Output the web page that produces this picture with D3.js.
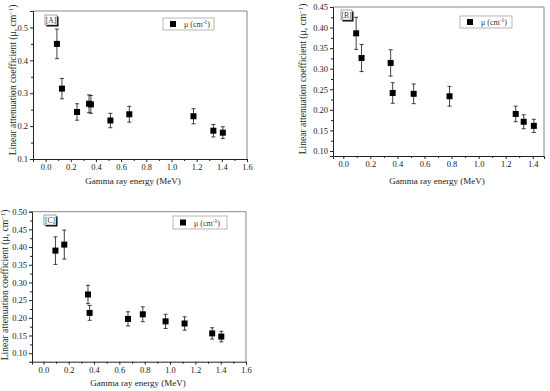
<!DOCTYPE html>
<html><head><meta charset="utf-8">
<script src="https://cdn.jsdelivr.net/npm/d3@7"></script>
<style>body{margin:0;background:#fff}svg{display:block}</style>
</head><body><svg id="c" width="550" height="391"></svg>
<script>
// ---- data ----
const energyA = [0.09, 0.13, 0.25, 0.345, 0.36, 0.515, 0.665, 1.175, 1.333, 1.408];
const muA     = [0.450, 0.314, 0.243, 0.268, 0.266, 0.217, 0.236, 0.230, 0.186, 0.180];
const errA    = [0.045, 0.031, 0.025, 0.027, 0.027, 0.022, 0.024, 0.023, 0.019, 0.018];

const energyB = [0.095, 0.135, 0.35, 0.365, 0.52, 0.785, 1.274, 1.333, 1.408];
const muB     = [0.386, 0.326, 0.314, 0.241, 0.239, 0.233, 0.190, 0.171, 0.161];
const errB    = [0.039, 0.033, 0.032, 0.025, 0.024, 0.024, 0.019, 0.017, 0.016];

const energyC = [0.095, 0.165, 0.352, 0.365, 0.668, 0.785, 0.965, 1.115, 1.333, 1.405];
const muC     = [0.390, 0.407, 0.266, 0.214, 0.197, 0.210, 0.190, 0.184, 0.156, 0.147];
const errC    = [0.039, 0.041, 0.026, 0.021, 0.020, 0.021, 0.020, 0.019, 0.016, 0.015];

const xTicksA = [0.0,0.2,0.4,0.6,0.8,1.0,1.2,1.4,1.6];
const xTicksB = [0.0,0.2,0.4,0.6,0.8,1.0,1.2,1.4];
const xTicksC = [0.0,0.2,0.4,0.6,0.8,1.0,1.2,1.4,1.6];
const yTicksA = [0.1,0.2,0.3,0.4,0.5];
const yTicksB = [0.10,0.15,0.20,0.25,0.30,0.35,0.40,0.45];
const yTicksC = [0.10,0.15,0.20,0.25,0.30,0.35,0.40,0.45,0.50];

const xTitle = "Gamma ray energy (MeV)";
const legendText = "μ (cm";
// ---------------

const svg = d3.select("#c");
const FONT = "Liberation Serif, Times New Roman, serif";

function panel(cfg) {
  const g = svg.append("g");
  const x = d3.scaleLinear().domain(cfg.xd).range([cfg.l, cfg.r]);
  const y = d3.scaleLinear().domain(cfg.yd).range([cfg.b, cfg.t]);

  g.append("line").attr("x1", cfg.l).attr("x2", cfg.r).attr("y1", cfg.t).attr("y2", cfg.t)
    .attr("stroke", "#888").attr("stroke-width", 1);
  g.append("line").attr("x1", cfg.r).attr("x2", cfg.r).attr("y1", cfg.t).attr("y2", cfg.b)
    .attr("stroke", "#888").attr("stroke-width", 1);

  const mid = a => a.slice(0, -1).map((d, i) => (d + a[i + 1]) / 2);
  const xMinor = mid(cfg.xt).concat([cfg.xt[cfg.xt.length-1] + (cfg.xt[1]-cfg.xt[0])/2]).filter(v => v <= cfg.xd[1] + 1e-9);
  const yMinor = mid(cfg.yt);

  const xa = g.append("g").attr("transform", `translate(0,${cfg.b})`)
    .call(d3.axisBottom(x).tickValues(cfg.xt).tickSize(3).tickPadding(2).tickFormat(d3.format(".1f")));
  g.append("g").attr("transform", `translate(0,${cfg.b})`)
    .call(d3.axisBottom(x).tickValues(xMinor).tickSize(2).tickFormat(""))
    .select(".domain").remove();
  const ya = g.append("g").attr("transform", `translate(${cfg.l},0)`)
    .call(d3.axisLeft(y).tickValues(cfg.yt).tickSize(3).tickPadding(2).tickFormat(d3.format(cfg.yf)));
  g.append("g").attr("transform", `translate(${cfg.l},0)`)
    .call(d3.axisLeft(y).tickValues(yMinor).tickSize(2).tickFormat(""))
    .select(".domain").remove();
  [xa, ya].forEach(a => {
    a.selectAll("text").attr("font-family", FONT).attr("font-size", 8.5).attr("fill", "#222");
    a.select(".domain").attr("stroke", "#222");
  });
  g.selectAll(".tick line").attr("stroke", "#222");

  const pts = cfg.e.map((e, i) => ({ e, m: cfg.m[i], s: cfg.s[i] }));
  const eb = g.append("g").attr("stroke", "#111").attr("stroke-width", 0.8);
  pts.forEach(p => {
    const cx = x(p.e);
    eb.append("line").attr("x1", cx).attr("x2", cx).attr("y1", y(p.m + p.s)).attr("y2", y(p.m - p.s));
    eb.append("line").attr("x1", cx - 2).attr("x2", cx + 2).attr("y1", y(p.m + p.s)).attr("y2", y(p.m + p.s));
    eb.append("line").attr("x1", cx - 2).attr("x2", cx + 2).attr("y1", y(p.m - p.s)).attr("y2", y(p.m - p.s));
  });
  g.append("g").selectAll("rect").data(pts).join("rect")
    .attr("x", d => x(d.e) - 3).attr("y", d => y(d.m) - 3)
    .attr("width", 6).attr("height", 6).attr("fill", "#000");

  const lb = cfg.lab;
  g.append("rect").attr("x", lb.x + 1.5).attr("y", lb.y + 1.5).attr("width", lb.w).attr("height", lb.h).attr("fill", "#000");
  g.append("rect").attr("x", lb.x).attr("y", lb.y).attr("width", lb.w).attr("height", lb.h)
    .attr("fill", "#fff").attr("stroke", "#666").attr("stroke-width", 0.6);
  g.append("text").attr("x", lb.x + lb.w / 2).attr("y", lb.y + lb.h - 2.5).attr("text-anchor", "middle")
    .attr("font-family", FONT).attr("font-size", 7.5).attr("fill", "#333").text(cfg.name);

  const lg = cfg.leg;
  g.append("rect").attr("x", lg.x).attr("y", lg.y).attr("width", lg.w).attr("height", lg.h)
    .attr("fill", "#fff").attr("stroke", "#999").attr("stroke-width", 0.7);
  g.append("rect").attr("x", lg.x + 7).attr("y", lg.y + lg.h / 2 - 3).attr("width", 6).attr("height", 6).attr("fill", "#000");
  const lt = g.append("text").attr("x", lg.x + 21).attr("y", lg.y + lg.h / 2 + 3)
    .attr("font-family", FONT).attr("font-size", 8).attr("fill", "#333");
  lt.append("tspan").text(legendText);
  lt.append("tspan").attr("font-size", 5.5).attr("dy", -3).text("-1");
  lt.append("tspan").attr("dy", 3).text(")");

  g.append("text").attr("x", cfg.xtx).attr("y", cfg.xty).attr("text-anchor", "middle")
    .attr("font-family", FONT).attr("font-size", 9).attr("fill", "#222").text(xTitle);
  const yt = g.append("text")
    .attr("transform", `translate(${cfg.ytx},${cfg.yty}) rotate(-90)`)
    .attr("text-anchor", "middle").attr("font-family", FONT).attr("font-size", 9.6).attr("fill", "#222");
  yt.append("tspan").text("Linear attenuation coefficient (μ, cm");
  yt.append("tspan").attr("font-size", 6.5).attr("dy", -3.5).text("−1");
  yt.append("tspan").attr("dy", 3.5).text(")");
}

panel({ name: "[A]", e: energyA, m: muA, s: errA, xt: xTicksA, yt: yTicksA, yf: ".1f",
  l: 33, r: 247, t: 11, b: 159, xd: [-0.1, 1.6], yd: [0.1, 0.55],
  lab: { x: 45, y: 15, w: 12, h: 10 }, leg: { x: 163, y: 18, w: 51, h: 12 },
  xtx: 133, xty: 184, ytx: 16, yty: 80 });

panel({ name: "[B]", e: energyB, m: muB, s: errB, xt: xTicksB, yt: yTicksB, yf: ".2f",
  l: 333, r: 544, t: 7, b: 156, xd: [-0.076, 1.483], yd: [0.0878, 0.45],
  lab: { x: 341, y: 10, w: 11, h: 10 }, leg: { x: 460, y: 16, w: 52, h: 12 },
  xtx: 437, xty: 184, ytx: 306, yty: 79 });

panel({ name: "[C]", e: energyC, m: muC, s: errC, xt: xTicksC, yt: yTicksC, yf: ".2f",
  l: 32, r: 246, t: 211.7, b: 361.7, xd: [-0.09, 1.6], yd: [0.076, 0.50],
  lab: { x: 44, y: 215, w: 12, h: 10 }, leg: { x: 173, y: 216, w: 54, h: 13 },
  xtx: 138, xty: 386, ytx: 8, yty: 285 });
</script></body></html>
